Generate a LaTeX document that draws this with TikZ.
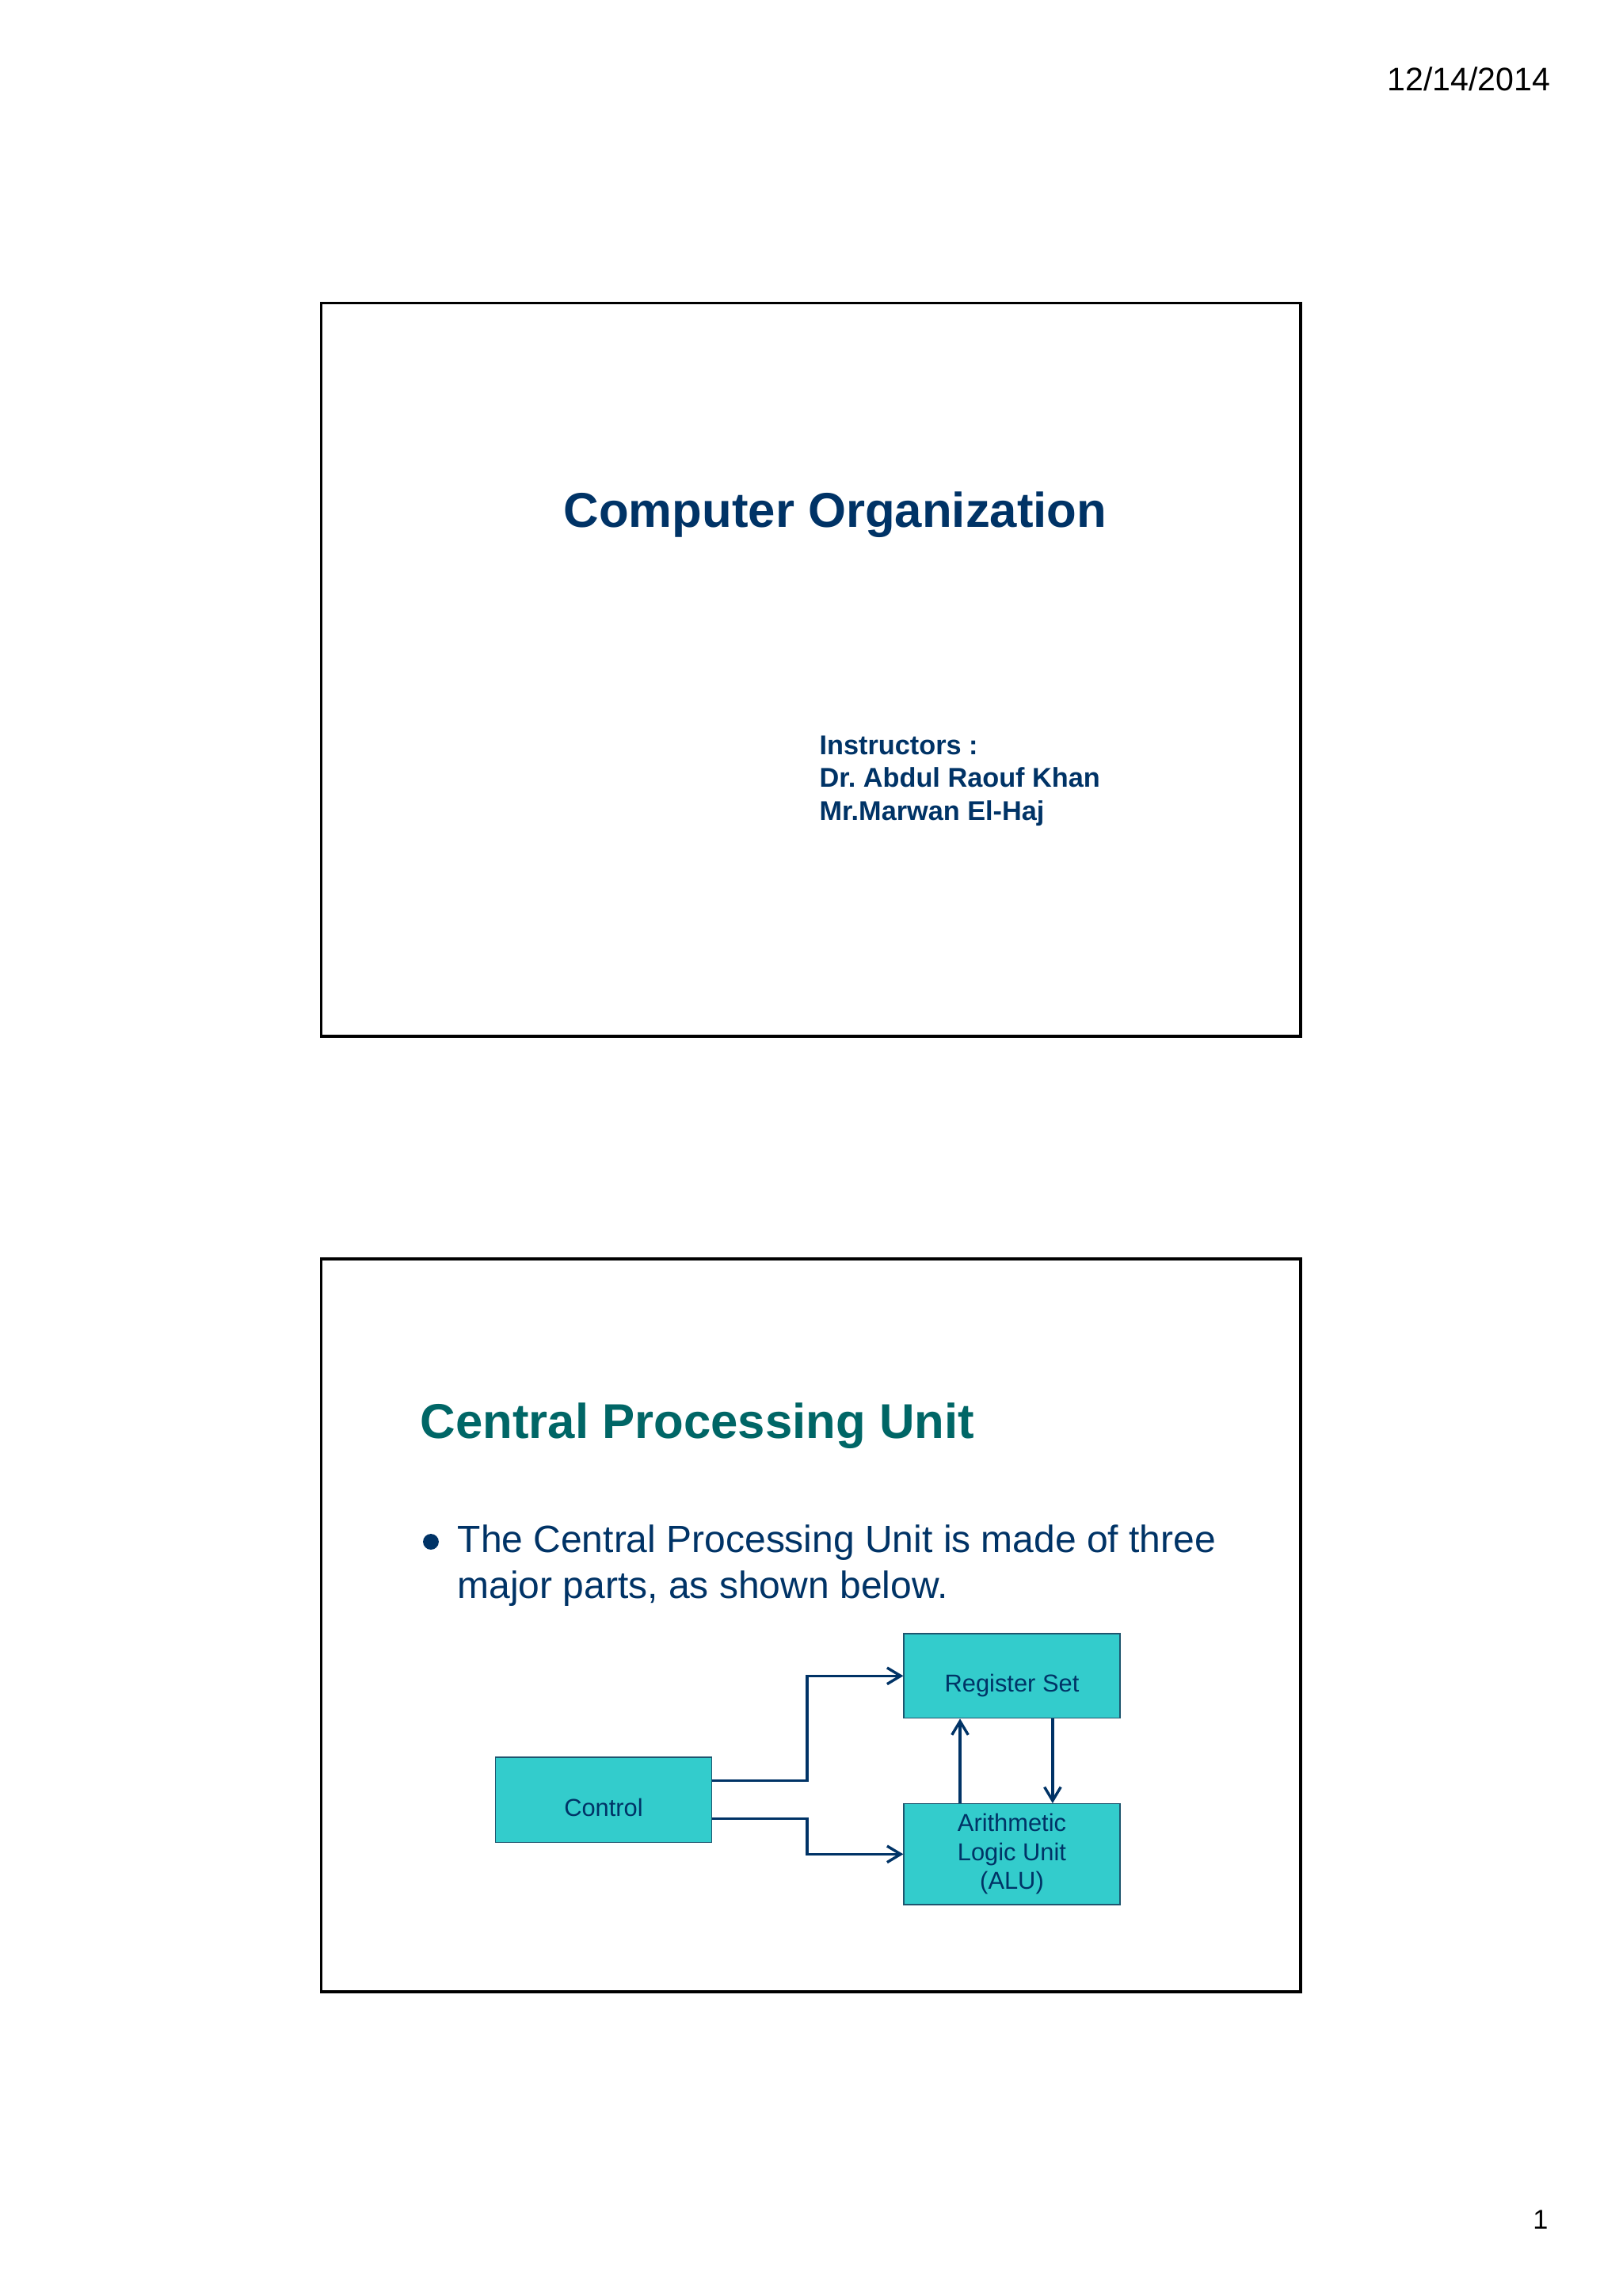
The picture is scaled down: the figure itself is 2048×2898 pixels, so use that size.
\documentclass[tikz,border=0pt]{standalone}
\usepackage{fontspec}
\setmainfont{Liberation Sans}
\usetikzlibrary{positioning,arrows.meta}
\definecolor{slidenavy}{RGB}{0,51,102}
\definecolor{slideteal}{RGB}{0,102,102}
\definecolor{unitcyan}{RGB}{51,204,204}
\definecolor{unitedge}{RGB}{30,85,110}
\frenchspacing

\begin{document}
\begin{tikzpicture}[
    x=0.01025390625cm, y=-0.01025390625cm,
    slide/.style={draw=black, line width=0.9pt},
    heading/.style={inner sep=0pt, font=\fontsize{18}{21.6}\selectfont\bfseries},
    plain/.style={inner sep=0pt, text=black, font=\fontsize{12}{14.4}\selectfont},
    unit/.style={draw=unitedge, line width=0.4pt, fill=unitcyan, text=slidenavy,
        minimum width=79.6pt, minimum height=31.1pt, inner sep=1pt,
        font=\fontsize{9}{10.6}\selectfont, align=center},
    link/.style={draw=slidenavy, line width=1pt, -{Straight Barb[length=5pt,width=6pt]}}
]
\useasboundingbox (0,0) rectangle (2048,2898);
\fill[white] (0,0) rectangle (2048,2898);

% page header / footer
\node[plain, anchor=base east] (date) at (1958,114) {12/14/2014};
\node[plain, anchor=base east, font=\fontsize{10}{12}\selectfont] (page) at (1955,2813) {1};

% slide 1: title slide
\draw[slide] (405.5,382.5) rectangle (1642,1308);
\node[heading, text=slidenavy, anchor=base] (course) at (1054.5,665) {Computer Organization};
\node[inner sep=0pt, anchor=north west, align=left, text=slidenavy,
    font=\fontsize{10}{12}\selectfont\bfseries] (staff) at (1034,928.5)
    {Instructors :\\Dr. Abdul Raouf Khan\\Mr.Marwan El-Haj};

% slide 2: cpu block diagram
\draw[slide] (405.5,1589) rectangle (1642,2514);
\node[heading, text=slideteal, anchor=base west] (cpu) at (530,1815) {Central Processing Unit};
\node[circle, fill=slidenavy, inner sep=0pt, minimum size=5.8pt] (dot) at (544,1946) {};
\node[inner sep=0pt, anchor=north west, align=left, text=slidenavy,
    font=\fontsize{14}{16.9}\selectfont] (point) at (577,1924.5)
    {The Central Processing Unit is made of three\\major parts, as shown below.};

\node[unit, text height=12pt, text depth=0pt] (reg) at (1277.5,2115.3) {Register Set};
\node[unit, text height=12pt, text depth=0pt, minimum height=31.3pt] (ctrl) at (762,2271.7) {Control};
\node[unit, minimum height=37.1pt] (alu) at (1277.5,2340.3) {Arithmetic\\Logic Unit\\(ALU)};

\draw[link] ([yshift=7pt]ctrl.east) -- ++(120,0) |- (reg.west);
\draw[link] ([yshift=-7pt]ctrl.east) -- ++(120,0) |- (alu.west);
\draw[link] ([xshift=-19.1pt]alu.north) -- ([xshift=-19.1pt]reg.south);
\draw[link] ([xshift=15pt]reg.south) -- ([xshift=15pt]alu.north);
\end{tikzpicture}
\end{document}
